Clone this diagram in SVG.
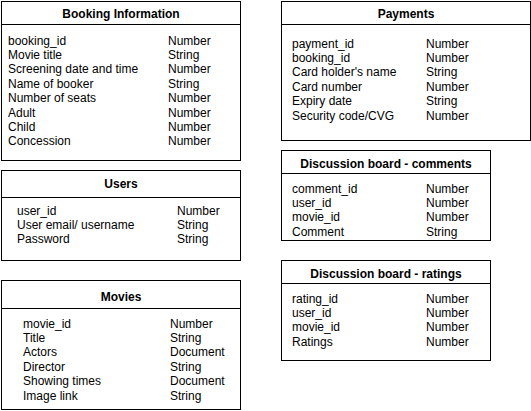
<svg xmlns="http://www.w3.org/2000/svg" width="531" height="411" viewBox="0 0 531 411">
<style>
  .box { fill: #ffffff; stroke: #000000; stroke-width: 1; }
  .sep { stroke: #000000; stroke-width: 1; fill: none; }
  .title { font-family: "Liberation Sans", Arial, sans-serif; font-size: 12px; font-weight: bold; fill: #000000; text-anchor: middle; }
  .row { font-family: "Liberation Sans", Arial, sans-serif; font-size: 12px; fill: #000000; }
</style>
<rect width="531" height="411" fill="#ffffff"/>
<g id="connectors"></g>

<g id="booking-information">
  <rect class="box" x="1.5" y="1.5" width="239" height="159"/>
  <line class="sep" x1="1.5" y1="24.5" x2="240.5" y2="24.5"/>
  <text class="title" x="121" y="17.5">Booking Information</text>
  <text class="row" x="8" y="44.5">booking_id</text><text class="row" x="168" y="44.5">Number</text>
  <text class="row" x="8" y="58.9">Movie title</text><text class="row" x="168" y="58.9">String</text>
  <text class="row" x="8" y="73.3">Screening date and time</text><text class="row" x="168" y="73.3">Number</text>
  <text class="row" x="8" y="87.7">Name of booker</text><text class="row" x="168" y="87.7">String</text>
  <text class="row" x="8" y="102.1">Number of seats</text><text class="row" x="168" y="102.1">Number</text>
  <text class="row" x="8" y="116.5">Adult</text><text class="row" x="168" y="116.5">Number</text>
  <text class="row" x="8" y="130.9">Child</text><text class="row" x="168" y="130.9">Number</text>
  <text class="row" x="8" y="145.3">Concession</text><text class="row" x="168" y="145.3">Number</text>
</g>

<g id="users">
  <rect class="box" x="1.5" y="170.5" width="239" height="90"/>
  <line class="sep" x1="1.5" y1="197.5" x2="240.5" y2="197.5"/>
  <text class="title" x="121" y="187.5">Users</text>
  <text class="row" x="17" y="214.5">user_id</text><text class="row" x="177" y="214.5">Number</text>
  <text class="row" x="17" y="228.9">User email/ username</text><text class="row" x="177" y="228.9">String</text>
  <text class="row" x="17" y="243.3">Password</text><text class="row" x="177" y="243.3">String</text>
</g>

<g id="movies">
  <rect class="box" x="1.5" y="280.5" width="239" height="129"/>
  <line class="sep" x1="1.5" y1="308.5" x2="240.5" y2="308.5"/>
  <text class="title" x="121" y="301">Movies</text>
  <text class="row" x="23" y="327.5">movie_id</text><text class="row" x="170" y="327.5">Number</text>
  <text class="row" x="23" y="341.9">Title</text><text class="row" x="170" y="341.9">String</text>
  <text class="row" x="23" y="356.3">Actors</text><text class="row" x="170" y="356.3">Document</text>
  <text class="row" x="23" y="370.7">Director</text><text class="row" x="170" y="370.7">String</text>
  <text class="row" x="23" y="385.1">Showing times</text><text class="row" x="170" y="385.1">Document</text>
  <text class="row" x="23" y="399.5">Image link</text><text class="row" x="170" y="399.5">String</text>
</g>

<g id="payments">
  <rect class="box" x="281.5" y="1.5" width="249" height="139"/>
  <line class="sep" x1="281.5" y1="24.5" x2="530.5" y2="24.5"/>
  <text class="title" x="406" y="18">Payments</text>
  <text class="row" x="292" y="47.5">payment_id</text><text class="row" x="426" y="47.5">Number</text>
  <text class="row" x="292" y="61.9">booking_id</text><text class="row" x="426" y="61.9">Number</text>
  <text class="row" x="292" y="76.3">Card holder's name</text><text class="row" x="426" y="76.3">String</text>
  <text class="row" x="292" y="90.7">Card number</text><text class="row" x="426" y="90.7">Number</text>
  <text class="row" x="292" y="105.1">Expiry date</text><text class="row" x="426" y="105.1">String</text>
  <text class="row" x="292" y="119.5">Security code/CVG</text><text class="row" x="426" y="119.5">Number</text>
</g>

<g id="discussion-comments">
  <rect class="box" x="281.5" y="150.5" width="209" height="90"/>
  <line class="sep" x1="281.5" y1="173.5" x2="490.5" y2="173.5"/>
  <text class="title" x="386" y="167.5">Discussion board - comments</text>
  <text class="row" x="292" y="192.5">comment_id</text><text class="row" x="426" y="192.5">Number</text>
  <text class="row" x="292" y="206.9">user_id</text><text class="row" x="426" y="206.9">Number</text>
  <text class="row" x="292" y="221.3">movie_id</text><text class="row" x="426" y="221.3">Number</text>
  <text class="row" x="292" y="235.7">Comment</text><text class="row" x="426" y="235.7">String</text>
</g>

<g id="discussion-ratings">
  <rect class="box" x="281.5" y="260.5" width="209" height="100"/>
  <line class="sep" x1="281.5" y1="283.5" x2="490.5" y2="283.5"/>
  <text class="title" x="386" y="277.5">Discussion board - ratings</text>
  <text class="row" x="292" y="302.5">rating_id</text><text class="row" x="426" y="302.5">Number</text>
  <text class="row" x="292" y="316.9">user_id</text><text class="row" x="426" y="316.9">Number</text>
  <text class="row" x="292" y="331.3">movie_id</text><text class="row" x="426" y="331.3">Number</text>
  <text class="row" x="292" y="345.7">Ratings</text><text class="row" x="426" y="345.7">Number</text>
</g>
</svg>
